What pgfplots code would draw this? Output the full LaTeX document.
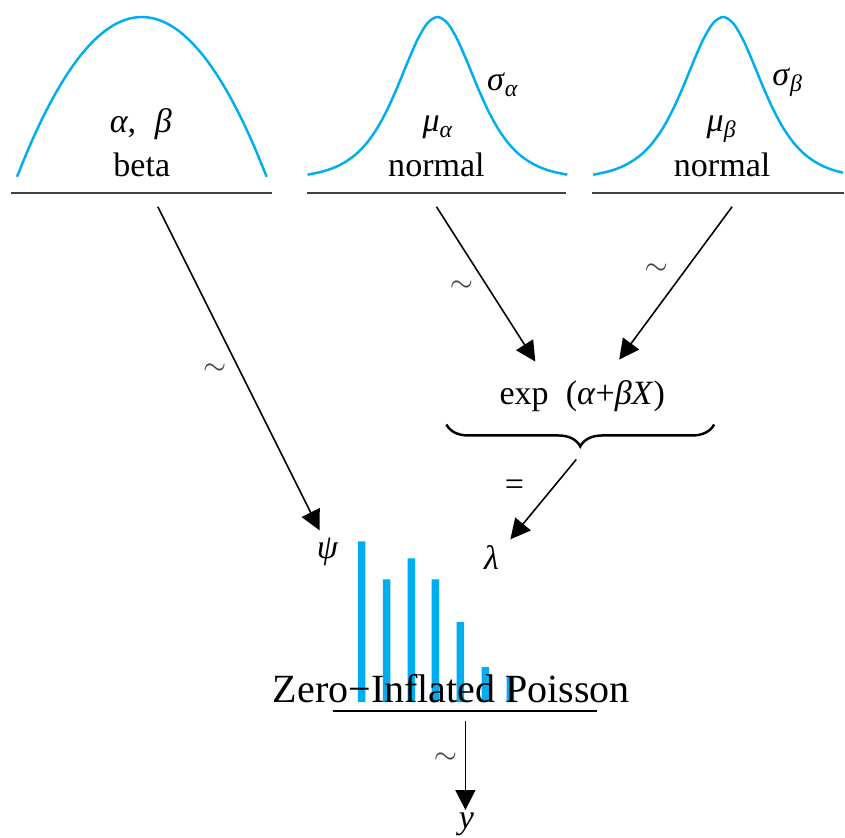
\documentclass[border=0pt]{standalone}
\usepackage{pgfplots}
\pgfplotsset{compat=1.18}
\usepackage{fontspec}
\setmainfont{Liberation Serif}
\usetikzlibrary{arrows.meta,decorations.pathreplacing}
\definecolor{kblue}{RGB}{0,174,239}
\definecolor{kgray}{RGB}{64,64,64}
\newcommand\lab{\fontsize{9.7}{11}\selectfont}
\begin{document}
\begin{tikzpicture}[>={Triangle[length=2mm,width=2mm]}]
% bars of the zero-inflated Poisson
\begin{axis}[at={(3.5cm,1.36cm)}, anchor=south west, scale only axis,
  width=1.75cm, height=1.61cm, xmin=350, xmax=525, ymin=0, ymax=161,
  hide axis, clip=false, ybar, bar width=7.5]
\addplot[draw=none, fill=kblue] coordinates {(362,161) (387,123) (412,144) (436,123) (461,80) (486,35) (511,26)};
\end{axis}
\begin{axis}[at={(0,0)}, anchor=south west, scale only axis,
  width=8.45cm, height=8.39cm, xmin=0, xmax=845, ymin=0, ymax=839,
  y dir=reverse, hide axis, clip=false]
\path (axis cs:0,0) (axis cs:845,839);
% beta curve
\addplot[kblue, line width=0.7pt, smooth] coordinates {
(17,177) (29.5,146.6) (42,119.4) (54.5,95.4) (67,74.6) (79.5,57) (92,42.6) (104.5,31.4) (117,23.4) (129.5,18.6) (142,17)
(154.5,18.6) (167,23.4) (179.5,31.4) (192,42.6) (204.5,57) (217,74.6) (229.5,95.4) (242,119.4) (254.5,146.6) (267,177)};
% normal alpha
\addplot[kblue, line width=0.7pt, smooth] coordinates {
(308,174.9) (318,172.9) (328,170.2) (338,166.3) (348,160.7) (358,153.0) (368,142.2) (378,127.8) (388,109.2) (398,86.9) (408,62.5) (418,39.7) (428,23.1) (438,17)
(448,23.1) (458,39.7) (468,62.5) (478,86.9) (488,109.2) (498,127.8) (508,142.2) (518,153.0) (528,160.7) (538,166.3) (548,170.2) (558,172.9) (568,174.9)};
% normal beta
\addplot[kblue, line width=0.7pt, smooth] coordinates {
(594,174.9) (604,172.9) (614,170.2) (624,166.3) (634,160.7) (644,153.0) (654,142.2) (664,127.8) (674,109.2) (684,86.9) (694,62.5) (704,39.7) (714,23.1) (724,17)
(734,23.1) (744,39.7) (754,62.5) (764,86.9) (774,109.2) (784,127.8) (794,142.2) (804,153.0) (814,160.7) (824,166.3) (834,170.2) (844,172.9)};
% base lines
\draw[kgray, line width=0.6pt] (axis cs:11,193) -- (axis cs:272,193);
\draw[kgray, line width=0.6pt] (axis cs:307,193) -- (axis cs:567,193);
\draw[kgray, line width=0.6pt] (axis cs:593,193) -- (axis cs:845,193);
\draw[black, line width=0.45pt] (axis cs:333,712) -- (axis cs:598,712);
% labels on distributions
\node[anchor=base, font=\lab] at (axis cs:142,177) {beta};
\node[anchor=base, font=\lab] at (axis cs:437,177) {normal};
\node[anchor=base, font=\lab] at (axis cs:723,177) {normal};
\node[anchor=base, font=\lab] at (axis cs:141,133) {\textit{α},\hspace{0.55em}\textit{β}};
\node[anchor=base, font=\lab] at (axis cs:439,132) {\textit{μ}\textsubscript{\textit{α}}};
\node[anchor=base, font=\lab] at (axis cs:504,91) {\textit{σ}\textsubscript{\textit{α}}};
\node[anchor=base, font=\lab] at (axis cs:723,132) {\textit{μ}\textsubscript{\textit{β}}};
\node[anchor=base, font=\lab] at (axis cs:789,86) {\textit{σ}\textsubscript{\textit{β}}};
% arrows
\draw[->, line width=0.45pt] (axis cs:158,207) -- (axis cs:320,531);
\draw[->, line width=0.45pt] (axis cs:437,207) -- (axis cs:536,362);
\draw[->, line width=0.45pt] (axis cs:733,207) -- (axis cs:620,360);
\draw[->, line width=0.45pt] (axis cs:577,460) -- (axis cs:511,540);
\draw[->, line width=0.45pt] (axis cs:466,722) -- (axis cs:466,811);
% tildes and equals
\node[font=\fontsize{8.5}{9}\selectfont, text=black!75] at (axis cs:215,370) {$\sim$};
\node[font=\fontsize{8.5}{9}\selectfont, text=black!75] at (axis cs:462,287) {$\sim$};
\node[font=\fontsize{8.5}{9}\selectfont, text=black!75] at (axis cs:657,270) {$\sim$};
\node[font=\fontsize{8.5}{9}\selectfont, text=black!75] at (axis cs:446,759) {$\sim$};
\node[font=\lab] at (axis cs:515,488) {=};
% exp and brace
\node[anchor=base, font=\lab] at (axis cs:583,405) {exp\hspace{0.5em}(\textit{α}+\textit{βX})};
\draw[decorate, decoration={brace, mirror, amplitude=2.2mm}, line width=0.7pt] (axis cs:447,425) -- (axis cs:715,425);
% likelihood
\node[font=\lab] at (axis cs:328,553) {\textit{ψ}};
\node[font=\lab] at (axis cs:492,558) {\textit{λ}};
\node[anchor=base, font=\fontsize{11.4}{13}\selectfont] at (axis cs:452,703) {Zero−Inflated Poisson};
\node[anchor=base, inner sep=0pt, font=\lab] at (axis cs:467,830) {\textit{y}};
\end{axis}
\end{tikzpicture}
\end{document}
